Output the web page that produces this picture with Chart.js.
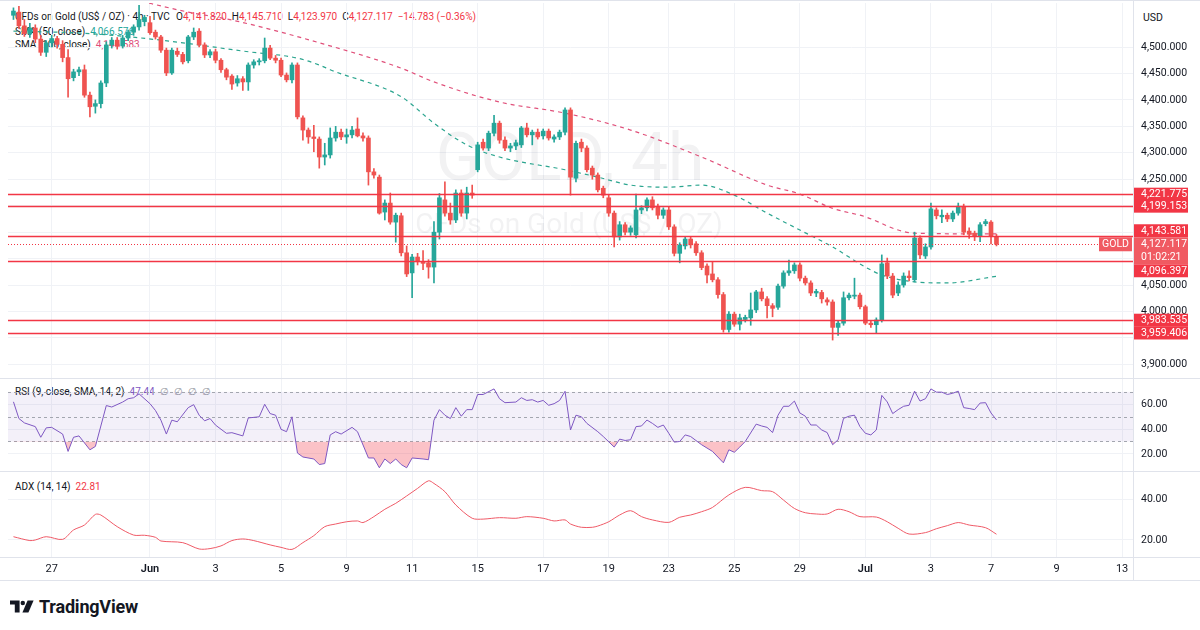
<!DOCTYPE html>
<html>
<head>
<meta charset="utf-8">
<script src="https://cdn.jsdelivr.net/npm/chart.js@4.4.1/dist/chart.umd.min.js"></script>
<style>
  body { margin: 0; background: #fff; }
  #wrap { position: relative; width: 1200px; height: 630px; overflow: hidden; background: #fff;
          font-family: Roboto, "Liberation Sans", Arial, sans-serif; color: #131722; }
  canvas { position: absolute; left: 0; z-index: 2; }
  .lg { position: absolute; font-size: 10px; line-height: 12px; white-space: nowrap; z-index: 1; }
  .up { color: #26a69a; } .dn { color: #f23645; } .pk { color: #e0507a; } .pu { color: #7e57c2; } .gr { color: #9598a1; }
  .hl { position: absolute; left: 0; width: 1200px; height: 1px; background: #e0e3eb; z-index: 3; }
  .vl { position: absolute; top: 0; width: 1px; height: 580px; background: #e0e3eb; z-index: 3; }
  #logo { position: absolute; left: 10px; top: 596px; display: flex; align-items: center; gap: 5px;
          font-size: 18px; font-weight: 700; color: #131722; letter-spacing: -0.2px; }
</style>
</head>
<body>
<div id="wrap">
  <div class="lg" style="left:15px;top:11px">CFDs on Gold (US$ / OZ) · 4h · TVC</div>
  <div class="lg" id="ohlc" style="left:176px;top:11px"></div>
  <div class="lg" id="sma50Lg" style="left:15px;top:26px"></div>
  <div class="lg" id="sma100Lg" style="left:15px;top:39px"></div>
  <div class="lg" id="rsiLg" style="left:15px;top:386px"></div>
  <div class="lg" id="adxLg" style="left:15px;top:481px"></div>
  <div class="lg" style="left:1143px;top:12px;font-size:10.5px">USD</div>

  <canvas id="cMain" width="1200" height="380" style="top:0;width:1200px;height:380px"></canvas>
  <canvas id="cRsi" width="1200" height="94" style="top:378px;width:1200px;height:94px"></canvas>
  <canvas id="cAdx" width="1200" height="110" style="top:471px;width:1200px;height:110px"></canvas>

  <div class="hl" style="top:0"></div>
  <div class="hl" style="top:378px"></div>
  <div class="hl" style="top:471px"></div>
  <div class="hl" style="top:557px"></div>
  <div class="hl" style="top:580px"></div>
  <div class="vl" style="left:1133px"></div>

  <div id="logo">
    <svg width="24" height="14" viewBox="0 0 30 16"><path d="M0 0h12v15H6V5H0z" fill="#131722"/><circle cx="16" cy="3" r="2.8" fill="#131722"/><path d="M22 0h7.5l-6.5 15h-7.5z" fill="#131722"/></svg>
    <span>TradingView</span>
  </div>
</div>

<script>
// 4h candles, 26 May - 7 Jul, bar index 0..180
const opens = [
  4560,4566,4540,4525,4536,4515,4490,4508,4516,4505,
  4480,4442,4453,4457,4409,4388,4393,4432,4504,4513,
  4502,4517,4528,4538,4548,4546,4528,4519,4494,4451,
  4492,4486,4474,4519,4530,4504,4485,4491,4475,4457,
  4445,4432,4440,4434,4466,4472,4474,4498,4479,4475,
  4447,4438,4466,4366,4343,4330,4326,4292,4296,4328,
  4339,4330,4334,4345,4332,4328,4264,4254,4188,4205,
  4169,4181,4111,4073,4103,4094,4092,4084,4150,4211,
  4186,4173,4224,4186,4224,4268,4320,4309,4337,4356,
  4324,4309,4313,4315,4347,4334,4339,4332,4341,4326,
  4330,4339,4381,4252,4320,4309,4271,4258,4233,4215,
  4186,4141,4164,4150,4145,4192,4196,4211,4199,4182,
  4192,4160,4110,4124,4137,4128,4111,4086,4071,4060,
  4032,3966,3995,3976,3985,3988,4003,4037,4024,4011,
  4008,4048,4073,4077,4088,4063,4054,4035,4036,4022,
  4018,3970,3978,4026,4029,4031,4009,3978,3975,3984,
  4092,4067,4035,4050,4067,4060,4139,4105,4122,4192,
  4179,4182,4175,4186,4199,4152,4148,4143,4166,4169,4141.82
];
const highs = [
  4574,4577,4552,4545,4542,4522,4512,4522,4520,4512,
  4495,4458,4462,4466,4415,4400,4436,4510,4518,4518,
  4522,4532,4542,4579,4560,4558,4532,4522,4498,4498,
  4498,4490,4522,4536,4535,4508,4495,4496,4478,4460,
  4448,4446,4444,4470,4476,4478,4517,4503,4484,4479,
  4451,4470,4470,4370,4347,4352,4330,4318,4347,4350,
  4345,4345,4350,4366,4338,4332,4270,4258,4211,4224,
  4186,4186,4124,4108,4110,4115,4098,4170,4223,4245,
  4205,4230,4230,4235,4239,4320,4326,4341,4371,4360,
  4330,4318,4324,4350,4356,4343,4345,4345,4345,4334,
  4343,4385,4385,4322,4326,4313,4275,4262,4237,4220,
  4190,4170,4168,4162,4222,4200,4215,4217,4203,4196,
  4198,4164,4130,4141,4141,4132,4115,4090,4094,4064,
  4036,4000,3999,3995,3993,4035,4040,4044,4028,4015,
  4052,4077,4097,4092,4092,4067,4058,4042,4040,4026,
  4022,3982,4037,4035,4063,4035,4012,3982,3988,4107,
  4101,4072,4056,4073,4077,4150,4143,4128,4205,4196,
  4192,4186,4190,4205,4203,4158,4152,4168,4174,4172,4145.71
];
const lows = [
  4552,4535,4520,4518,4508,4484,4482,4500,4498,4472,
  4405,4436,4446,4405,4368,4375,4385,4425,4498,4496,
  4498,4512,4522,4532,4540,4524,4515,4490,4446,4448,
  4482,4468,4470,4514,4500,4480,4480,4470,4452,4438,
  4420,4426,4418,4418,4460,4466,4470,4476,4470,4444,
  4434,4432,4364,4324,4318,4302,4271,4277,4290,4322,
  4325,4318,4328,4330,4322,4239,4252,4184,4173,4165,
  4131,4105,4066,4026,4088,4079,4063,4054,4137,4180,
  4165,4168,4180,4175,4214,4264,4305,4304,4332,4318,
  4304,4302,4306,4310,4330,4315,4326,4326,4324,4320,
  4325,4334,4220,4245,4302,4264,4250,4226,4215,4180,
  4122,4135,4145,4144,4139,4185,4190,4192,4175,4176,
  4155,4105,4092,4118,4120,4106,4079,4054,4056,4025,
  3961,3961,3972,3965,3980,3974,3998,4020,3988,3990,
  4004,4044,4068,4072,4058,4050,4030,4028,4016,4012,
  3946,3955,3974,4022,4024,4005,3975,3970,3959,3980,
  4062,4026,4030,4046,4058,4056,4100,4100,4118,4175,
  4168,4170,4170,4182,4145,4138,4134,4132,4162,4128,4123.97
];
const closes = [
  4568,4540,4525,4536,4515,4490,4508,4516,4505,4480,
  4440,4453,4457,4409,4387,4393,4432,4504,4513,4502,
  4517,4528,4538,4552,4556,4527,4519,4494,4451,4494,
  4486,4472,4519,4528,4504,4485,4491,4475,4457,4443,
  4430,4440,4434,4466,4472,4474,4498,4479,4475,4447,
  4438,4466,4368,4343,4330,4327,4292,4296,4328,4339,
  4330,4334,4343,4332,4328,4264,4258,4186,4205,4169,
  4182,4111,4071,4103,4094,4091,4084,4150,4215,4186,
  4173,4224,4186,4224,4220,4315,4309,4337,4356,4324,
  4309,4313,4319,4347,4334,4339,4330,4341,4328,4330,
  4339,4381,4254,4318,4309,4268,4258,4230,4220,4186,
  4141,4164,4150,4158,4192,4196,4211,4196,4182,4192,
  4160,4110,4126,4137,4126,4111,4083,4069,4060,4032,
  3966,3995,3976,3988,3989,4003,4037,4024,4011,4006,
  4048,4073,4077,4088,4063,4054,4035,4038,4024,4018,
  3970,3978,4026,4031,4031,4009,3978,3975,3984,4090,
  4067,4031,4050,4067,4064,4139,4107,4122,4194,4181,
  4182,4175,4186,4199,4150,4146,4143,4164,4170,4141.9,4127.117
];

// moving averages (read at the visible bends)
const sma50Bars = [0,13,27,43,52,56,58,71,77,83,89,101,107,113,120,126,132,138,144,150,156,159,165,171,180];
const sma50Values = [4530,4526,4513,4491,4479,4466,4457,4406,4356,4315,4292,4268,4254,4239,4235,4239,4220,4186,4154,4122,4084,4069,4056,4054,4066.576];
const sma100Bars = [22,32,40,56,71,77,89,101,113,126,138,144,150,156,162,165,180];
const sma100Values = [4590,4566,4551,4508,4460,4434,4396,4375,4343,4292,4239,4222,4195,4179,4154,4148,4146.583];

// horizontal levels drawn on the chart
const levelPrices = [4221.775, 4199.153, 4143.581, 4096.397, 3983.535, 3959.406];
const priceGrid = [3900,3950,4000,4050,4100,4150,4200,4250,4300,4350,4400,4450,4500];
const countdown = '01:02:21';

// RSI (9)
const rsiBars = [
  0,1,2,4,5,6,7,9,10,11,
  12,14,15,17,18,20,21,22,23,25,
  26,27,28,29,30,32,33,34,35,36,
  37,39,40,42,43,45,46,47,48,49,
  50,51,52,53,55,56,57,58,59,60,
  62,63,65,66,67,68,69,70,71,72,
  73,75,76,77,78,79,80,81,82,83,
  84,85,86,88,89,90,92,93,94,95,
  96,97,98,99,100,101,102,103,104,105,
  107,108,110,111,112,113,114,115,116,117,
  118,119,120,121,122,123,124,126,127,128,
  130,131,132,133,134,136,137,138,139,140,
  141,142,143,144,145,146,147,148,149,150,
  151,152,153,154,155,156,157,158,159,160,
  161,162,163,164,165,166,167,168,169,170,
  171,172,173,174,175,176,177,178,179,180
];
const rsiValues = [
  62,48.5,45,42,33.4,41,41.4,36,22,33.4,
  34.5,23.3,26,59,57.8,61.8,64.5,65.3,68.4,60.5,
  55,47.2,36,47.2,45.9,57.3,59.7,51.2,46.7,48.5,
  43.2,36.6,37.1,34.5,49,49.9,60,52.5,51.2,39.8,
  37.9,49.9,20.7,17.5,15.9,11.4,12.2,35.3,37.9,36,
  41.4,37.9,16.7,16.7,8.8,15.9,12.2,15.9,11.4,8.8,
  16.7,15.9,15.3,47.2,55.7,51.2,48.5,57.3,50.4,55.7,
  55.7,67.9,67.9,72.4,64.5,61.3,61.8,65.3,63.1,63.7,
  61.8,63.1,59.2,60.5,63.1,70.5,39.3,51.2,49.9,44.6,
  37.9,34,25.5,31.9,30.8,31.4,42,42.5,47.3,44.6,
  41.4,43.3,36.6,29.5,30,35.3,34,27.4,24.7,22,
  12.8,23.3,21.3,25.5,30,44,42.5,41.4,37.2,51.2,
  58.4,58.4,62.6,53,50.4,43.3,43.3,39.3,37.2,27.4,
  31.4,48.6,50.4,51.2,42,36.6,35.3,39.3,67.2,61.9,
  52.5,55.7,58.4,59.2,70.6,62.6,64.5,72.4,69.8,69.8,
  67.9,68.9,70.6,57.3,56.6,55.7,61,61.3,53,47.44
];
const rsiLevels = [70, 50, 30];
const rsiTicks = [20, 40, 60];

// ADX (14, 14)
const adxBars = [
  0,3,4,6,9,11,13,15,16,19,
  22,24,26,27,31,34,36,38,40,42,
  44,47,49,51,53,55,57,59,61,63,
  64,66,68,70,72,74,76,77,79,81,
  84,86,89,92,94,97,99,101,102,104,
  106,107,109,111,113,115,117,120,122,124,
  126,128,131,134,137,139,141,143,145,147,
  149,151,153,155,158,160,162,164,167,169,
  171,173,175,178,180
];
const adxValues = [
  21.6,19.7,20,21.6,20.3,24.9,27.3,32.5,32.2,26.5,
  22.4,22.3,21.3,19.5,18.7,15.6,15.8,17.1,19.7,20.5,
  19.7,17.6,16.4,15.4,18.7,22.1,26.5,27.8,28.9,29.3,
  28.5,31.4,35,37.9,41.5,45.2,48.9,47.6,43.6,37.1,
  30.6,30.2,30.9,30.6,31.4,30.6,29.3,29.8,27.8,26.2,
  26.2,26.8,28.9,32.2,34.3,31.4,29.8,28.6,31.1,32.2,
  33.8,35.9,42,45.7,44.1,43.6,39.5,35.4,33.3,32.7,
  32.7,35,33.8,31.4,31.2,28.9,25.7,22.9,23.6,25.5,
  27,28.5,27.3,26,22.81
];
const adxTicks = [20, 40];

// time axis: first bar of each labelled day
const dayStartBars = [7,25,37,49,61,73,85,97,109,120,132,144,156,168,179,191,203];
const dayLabels = ['27','Jun','3','5','9','11','15','17','19','23','25','29','Jul','3','7','9','13'];

const FONT = "Roboto, 'Liberation Sans', Arial, sans-serif";
const UP = '#26a69a', DOWN = '#ef5350', RED = '#f23645', GRID = '#f0f2f6', TEXT = '#131722';
const X_MIN = -1, X_MAX = 205;

const fmt3 = v => v.toLocaleString('en-US', { minimumFractionDigits: 3, maximumFractionDigits: 3 });
const last = closes.length - 1;
const lastClose = closes[last];

// legends
const chg = closes[last] - closes[last - 1];
const pct = chg / closes[last - 1] * 100;
const sign = v => (v < 0 ? '\u2212' : '+');
const cls = chg < 0 ? 'dn' : 'up';
document.getElementById('ohlc').innerHTML =
  'O<span class="' + cls + '">' + fmt3(opens[last]) + '</span>&nbsp; H<span class="' + cls + '">' + fmt3(highs[last]) +
  '</span>&nbsp; L<span class="' + cls + '">' + fmt3(lows[last]) + '</span>&nbsp; C<span class="' + cls + '">' + fmt3(closes[last]) +
  '</span>&nbsp; <span class="' + cls + '">' + sign(chg) + Math.abs(chg).toFixed(3) + ' (' + sign(chg) + Math.abs(pct).toFixed(2) + '%)</span>';
document.getElementById('sma50Lg').innerHTML = 'SMA (50, close)&nbsp; <span class="up">' + fmt3(sma50Values[sma50Values.length - 1]) + '</span>';
document.getElementById('sma100Lg').innerHTML = 'SMA (100, close)&nbsp; <span class="pk">' + fmt3(sma100Values[sma100Values.length - 1]) + '</span>';
document.getElementById('rsiLg').innerHTML = 'RSI (9, close, SMA, 14, 2)&nbsp; <span class="pu">' + rsiValues[rsiValues.length - 1].toFixed(2) +
  '</span>&nbsp; <span class="gr">\u2205&nbsp; \u2205&nbsp; \u2205&nbsp; \u2205</span>';
document.getElementById('adxLg').innerHTML = 'ADX (14, 14)&nbsp; <span class="dn">' + adxValues[adxValues.length - 1].toFixed(2) + '</span>';

// chart data built from the arrays
const candleColors = closes.map((c, i) => (c >= opens[i] ? UP : DOWN));
const bodies = closes.map((c, i) => ({ x: i, y: [opens[i], c] }));
const wicks = closes.map((c, i) => ({ x: i, y: [lows[i], highs[i]] }));
const sma50 = sma50Bars.map((b, i) => ({ x: b, y: sma50Values[i] }));
const sma100 = sma100Bars.map((b, i) => ({ x: b, y: sma100Values[i] }));
const rsi = rsiBars.map((b, i) => ({ x: b, y: rsiValues[i] }));
const adx = adxBars.map((b, i) => ({ x: b, y: adxValues[i] }));

function xScale(showLabels) {
  return {
    type: 'linear', min: X_MIN, max: X_MAX, offset: false,
    afterBuildTicks: s => { s.ticks = dayStartBars.map(v => ({ value: v })); },
    afterFit: s => { s.height = showLabels ? 23 : 0; s.paddingLeft = 0; s.paddingRight = 0; },
    grid: { color: GRID, drawTicks: false, offset: false },
    border: { display: false },
    ticks: {
      display: showLabels, autoSkip: false, maxRotation: 0, padding: 5, color: TEXT,
      font: ctx => ({ family: FONT, size: 11, weight: /[A-Za-z]/.test(dayLabels[ctx.index] || '') ? '600' : '400' }),
      callback: v => dayLabels[dayStartBars.indexOf(v)]
    }
  };
}

function yScale(min, max, tickValues, labelFn) {
  return {
    position: 'right', min: min, max: max,
    afterBuildTicks: s => { s.ticks = tickValues.map(v => ({ value: v })); },
    afterFit: s => { s.width = 67; s.paddingTop = 0; s.paddingBottom = 0; },
    grid: { color: GRID, drawTicks: false },
    border: { display: false },
    ticks: { padding: 8, color: TEXT, font: { family: FONT, size: 10.5 }, callback: labelFn }
  };
}

const baseOptions = (pad, scales) => ({
  responsive: false, animation: false, devicePixelRatio: 1,
  layout: { padding: pad },
  plugins: { legend: { display: false }, tooltip: { enabled: false } },
  scales: scales
});

// main pane: watermark, level lines and price tags
const mainPlugin = {
  id: 'mainDecor',
  beforeDatasetsDraw(chart) {
    const ctx = chart.ctx;
    ctx.save();
    ctx.fillStyle = 'rgba(19,23,34,0.055)';
    ctx.textAlign = 'center';
    ctx.textBaseline = 'middle';
    ctx.font = '66px ' + FONT;
    ctx.fillText('GOLD, 4h', 570, 163);
    ctx.font = '28px ' + FONT;
    ctx.fillText('CFDs on Gold (US$ / OZ)', 569, 226);
    ctx.restore();
  },
  afterDatasetsDraw(chart) {
    const { ctx, chartArea: a, scales: { y } } = chart;
    ctx.save();
    ctx.strokeStyle = RED;
    ctx.lineWidth = 1.6;
    levelPrices.forEach(v => {
      const py = Math.round(y.getPixelForValue(v)) + 0.5;
      ctx.beginPath(); ctx.moveTo(a.left, py); ctx.lineTo(a.right, py); ctx.stroke();
    });
    const pc = Math.round(y.getPixelForValue(lastClose)) + 0.5;
    ctx.lineWidth = 1;
    ctx.setLineDash([1, 2]);
    ctx.beginPath(); ctx.moveTo(a.left, pc); ctx.lineTo(a.right, pc); ctx.stroke();
    ctx.restore();
  },
  afterDraw(chart) {
    const { ctx, chartArea: a, scales: { y } } = chart;
    const x0 = a.right, w = 55, half = 6.5;
    const yc = y.getPixelForValue(lastClose);
    const curTop = yc - 7, curBot = yc + 20;
    ctx.save();
    ctx.font = '10.5px ' + FONT;
    ctx.textBaseline = 'middle';
    levelPrices.forEach(v => {
      let py = y.getPixelForValue(v);
      if (py + half > curTop && py - half < curBot) py = py < yc ? curTop - half : curBot + half;
      ctx.fillStyle = RED;
      ctx.fillRect(x0, py - half, w, half * 2);
      ctx.fillStyle = '#fff';
      ctx.textAlign = 'left';
      ctx.fillText(fmt3(v), x0 + 8, py + 0.5);
    });
    ctx.fillStyle = '#f05a62';
    ctx.fillRect(x0, curTop, w, curBot - curTop);
    ctx.fillRect(x0 - 34, yc - 7, 33, 14);
    ctx.fillStyle = '#fff';
    ctx.textAlign = 'left';
    ctx.fillText(fmt3(lastClose), x0 + 8, yc + 0.5);
    ctx.fillText(countdown, x0 + 8, yc + 13);
    ctx.textAlign = 'center';
    ctx.fillText('GOLD', x0 - 17.5, yc + 0.5);
    ctx.restore();
  }
};

new Chart(document.getElementById('cMain'), {
  type: 'bar',
  data: {
    datasets: [
      { type: 'bar', data: bodies, backgroundColor: candleColors, barThickness: 4, minBarLength: 1, grouped: false, borderWidth: 0, order: 0 },
      { type: 'bar', data: wicks, backgroundColor: candleColors, barThickness: 1, grouped: false, borderWidth: 0, order: 1 },
      { type: 'line', data: sma50, borderColor: '#2ba58f', borderWidth: 1.2, borderDash: [4, 4], pointRadius: 0, cubicInterpolationMode: 'monotone', order: 2 },
      { type: 'line', data: sma100, borderColor: '#e0507a', borderWidth: 1.2, borderDash: [4, 4], pointRadius: 0, cubicInterpolationMode: 'monotone', order: 3 }
    ]
  },
  options: baseOptions({ left: 8, top: 3, bottom: 2, right: 0 }, {
    x: xScale(false),
    y: yScale(3874.3, 4583.2, priceGrid, v => (levelPrices.some(l => Math.abs(l - v) < 12) ? '' : fmt3(v)))
  }),
  plugins: [mainPlugin]
});

// RSI pane
const rsiPlugin = {
  id: 'rsiDecor',
  beforeDatasetsDraw(chart) {
    const { ctx, chartArea: a, scales: { y } } = chart;
    const top = y.getPixelForValue(rsiLevels[0]), bot = y.getPixelForValue(rsiLevels[2]);
    ctx.save();
    ctx.fillStyle = 'rgba(126,87,194,0.09)';
    ctx.fillRect(a.left, top, a.right - a.left, bot - top);
    ctx.strokeStyle = '#a3a6af';
    ctx.lineWidth = 1;
    ctx.setLineDash([3, 3]);
    rsiLevels.forEach(v => {
      const py = Math.round(y.getPixelForValue(v)) + 0.5;
      ctx.beginPath(); ctx.moveTo(a.left, py); ctx.lineTo(a.right, py); ctx.stroke();
    });
    ctx.restore();
  }
};

new Chart(document.getElementById('cRsi'), {
  type: 'line',
  data: {
    datasets: [{
      data: rsi, borderColor: '#7e57c2', borderWidth: 1, pointRadius: 0, tension: 0,
      fill: { target: { value: 30 }, above: 'rgba(0,0,0,0)', below: 'rgba(242,54,69,0.3)' }
    }]
  },
  options: baseOptions({ left: 8, top: 1, bottom: 1, right: 0 }, {
    x: xScale(false),
    y: yScale(6.2, 80.4, rsiTicks, v => v.toFixed(2))
  }),
  plugins: [rsiPlugin]
});

// ADX pane with time axis
new Chart(document.getElementById('cAdx'), {
  type: 'line',
  data: {
    datasets: [{ data: adx, borderColor: '#ef5a67', borderWidth: 1, pointRadius: 0, tension: 0.3 }]
  },
  options: baseOptions({ left: 8, top: 1, bottom: 0, right: 0 }, {
    x: xScale(true),
    y: yScale(11.2, 53.2, adxTicks, v => v.toFixed(2))
  })
});
</script>
</body>
</html>
